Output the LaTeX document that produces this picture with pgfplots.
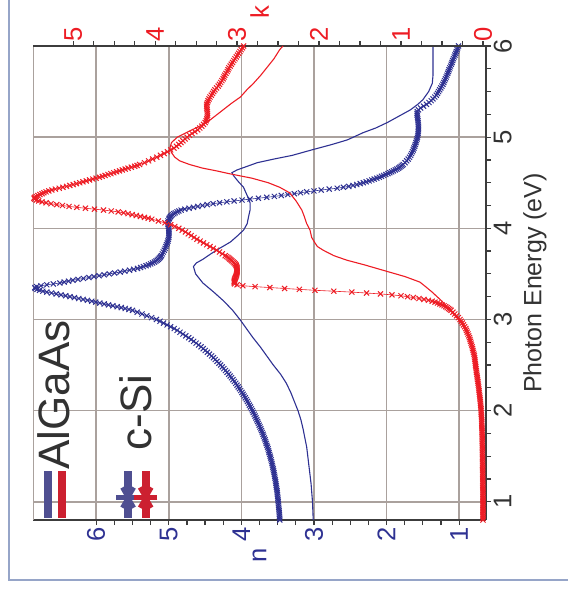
\documentclass[border=0pt]{standalone}
\usepackage{pgfplots}
\pgfplotsset{compat=1.18}
\usepackage{pgfplotstable}
\usepackage{fontspec}
\setmainfont{Liberation Sans}
\definecolor{nblue}{RGB}{46,49,146}
\definecolor{kred}{RGB}{237,28,36}
\definecolor{legblue}{RGB}{79,79,145}
\definecolor{legred}{RGB}{204,32,48}
\definecolor{gridc}{RGB}{170,161,157}
\definecolor{axc}{RGB}{60,60,60}
\definecolor{txtc}{RGB}{50,50,50}
\definecolor{framec}{RGB}{150,165,200}

% c-Si: photon energy (eV), n, k
\pgfplotstableread{
E n k
0.80 3.470 0.000
0.82 3.472 0.000
0.84 3.474 0.000
0.86 3.476 0.000
0.88 3.478 0.000
0.90 3.480 0.000
0.92 3.482 0.000
0.94 3.485 0.000
0.96 3.487 0.000
0.98 3.490 0.000
1.00 3.492 0.000
1.02 3.495 0.000
1.04 3.497 0.000
1.06 3.500 0.000
1.08 3.503 0.000
1.10 3.506 0.000
1.12 3.509 0.001
1.14 3.513 0.001
1.16 3.516 0.001
1.18 3.520 0.002
1.20 3.524 0.002
1.22 3.528 0.002
1.24 3.532 0.002
1.26 3.537 0.003
1.28 3.541 0.003
1.30 3.546 0.003
1.32 3.551 0.003
1.34 3.556 0.004
1.36 3.561 0.004
1.38 3.567 0.004
1.40 3.572 0.004
1.42 3.578 0.004
1.44 3.584 0.005
1.46 3.590 0.005
1.48 3.597 0.005
1.50 3.603 0.005
1.52 3.610 0.005
1.54 3.618 0.006
1.56 3.625 0.006
1.58 3.632 0.006
1.60 3.640 0.007
1.62 3.648 0.007
1.64 3.657 0.008
1.66 3.665 0.008
1.68 3.674 0.008
1.70 3.683 0.009
1.72 3.693 0.010
1.74 3.702 0.010
1.76 3.712 0.011
1.78 3.722 0.011
1.80 3.732 0.012
1.82 3.743 0.013
1.84 3.754 0.014
1.86 3.765 0.014
1.88 3.776 0.015
1.90 3.787 0.016
1.92 3.799 0.017
1.94 3.811 0.018
1.96 3.823 0.020
1.98 3.836 0.021
2.00 3.848 0.022
2.02 3.861 0.024
2.04 3.875 0.026
2.06 3.888 0.028
2.08 3.902 0.030
2.10 3.916 0.032
2.12 3.931 0.035
2.14 3.946 0.037
2.16 3.961 0.040
2.18 3.976 0.042
2.20 3.992 0.045
2.22 4.009 0.048
2.24 4.026 0.051
2.26 4.043 0.053
2.28 4.060 0.056
2.30 4.078 0.059
2.32 4.097 0.062
2.34 4.116 0.066
2.36 4.136 0.069
2.38 4.155 0.072
2.40 4.175 0.075
2.42 4.197 0.078
2.44 4.219 0.081
2.46 4.241 0.084
2.48 4.263 0.087
2.50 4.285 0.090
2.52 4.310 0.093
2.54 4.335 0.096
2.56 4.360 0.099
2.58 4.385 0.102
2.60 4.410 0.105
2.62 4.439 0.110
2.64 4.468 0.116
2.66 4.497 0.121
2.68 4.526 0.127
2.70 4.555 0.132
2.72 4.589 0.139
2.74 4.623 0.145
2.76 4.657 0.152
2.78 4.691 0.158
2.80 4.725 0.165
2.82 4.765 0.174
2.84 4.805 0.183
2.86 4.845 0.192
2.88 4.885 0.201
2.90 4.925 0.210
2.92 4.974 0.224
2.94 5.023 0.238
2.96 5.072 0.252
2.98 5.121 0.266
3.00 5.170 0.280
3.02 5.236 0.300
3.04 5.302 0.322
3.06 5.368 0.344
3.08 5.434 0.367
3.10 5.500 0.390
3.11 5.548 0.404
3.12 5.600 0.420
3.13 5.654 0.437
3.14 5.710 0.455
3.15 5.770 0.476
3.16 5.830 0.500
3.17 5.890 0.526
3.18 5.950 0.555
3.19 6.005 0.585
3.20 6.060 0.620
3.21 6.120 0.665
3.22 6.180 0.720
3.23 6.240 0.780
3.24 6.300 0.850
3.25 6.360 0.920
3.26 6.420 1.000
3.27 6.485 1.110
3.28 6.550 1.250
3.29 6.615 1.420
3.30 6.680 1.600
3.31 6.735 1.820
3.32 6.780 2.050
3.33 6.815 2.240
3.34 6.840 2.420
3.35 6.845 2.600
3.36 6.820 2.780
3.37 6.760 2.930
3.38 6.680 3.000
3.39 6.590 3.030
3.40 6.500 3.035
3.41 6.440 3.035
3.42 6.380 3.035
3.43 6.320 3.032
3.44 6.250 3.030
3.45 6.175 3.025
3.46 6.100 3.020
3.47 6.030 3.015
3.48 5.960 3.010
3.49 5.890 3.007
3.50 5.820 3.005
3.51 5.745 3.002
3.52 5.670 3.000
3.53 5.605 3.000
3.54 5.540 3.000
3.55 5.483 3.000
3.56 5.430 3.000
3.57 5.388 3.002
3.58 5.350 3.005
3.59 5.313 3.010
3.60 5.280 3.015
3.61 5.250 3.024
3.62 5.222 3.035
3.63 5.198 3.047
3.64 5.178 3.060
3.65 5.160 3.072
3.66 5.145 3.085
3.67 5.132 3.097
3.68 5.120 3.110
3.69 5.110 3.127
3.70 5.100 3.145
3.72 5.088 3.180
3.74 5.076 3.215
3.76 5.062 3.250
3.78 5.050 3.290
3.80 5.040 3.330
3.82 5.030 3.370
3.84 5.020 3.410
3.86 5.012 3.450
3.88 5.005 3.490
3.90 5.000 3.525
3.92 4.998 3.560
3.94 4.997 3.595
3.96 4.997 3.630
3.98 4.998 3.670
4.00 5.000 3.710
4.02 5.005 3.760
4.04 5.010 3.810
4.06 5.012 3.880
4.08 5.010 3.960
4.10 5.000 4.040
4.11 4.993 4.085
4.12 4.985 4.130
4.13 4.976 4.180
4.14 4.965 4.230
4.15 4.950 4.280
4.16 4.930 4.330
4.17 4.910 4.385
4.18 4.885 4.450
4.19 4.860 4.535
4.20 4.830 4.630
4.21 4.780 4.740
4.22 4.720 4.850
4.23 4.660 4.955
4.24 4.600 5.050
4.25 4.535 5.130
4.26 4.470 5.200
4.27 4.390 5.270
4.28 4.300 5.330
4.29 4.200 5.380
4.30 4.100 5.420
4.31 3.990 5.450
4.32 3.880 5.470
4.33 3.765 5.478
4.34 3.650 5.470
4.35 3.545 5.452
4.36 3.450 5.430
4.37 3.360 5.405
4.38 3.270 5.380
4.39 3.185 5.357
4.40 3.100 5.330
4.41 3.000 5.297
4.42 2.900 5.260
4.43 2.790 5.217
4.44 2.680 5.170
4.45 2.595 5.125
4.46 2.520 5.080
4.47 2.462 5.040
4.48 2.410 5.000
4.49 2.363 4.960
4.50 2.320 4.920
4.51 2.280 4.880
4.52 2.240 4.840
4.53 2.204 4.800
4.54 2.170 4.760
4.55 2.135 4.720
4.56 2.100 4.680
4.57 2.070 4.645
4.58 2.040 4.610
4.59 2.010 4.575
4.60 1.980 4.540
4.61 1.955 4.505
4.62 1.930 4.470
4.63 1.905 4.435
4.64 1.880 4.400
4.65 1.857 4.365
4.66 1.835 4.330
4.67 1.817 4.290
4.68 1.800 4.250
4.69 1.785 4.220
4.70 1.770 4.190
4.72 1.745 4.130
4.74 1.722 4.080
4.76 1.702 4.030
4.78 1.684 3.980
4.80 1.668 3.935
4.82 1.655 3.890
4.84 1.643 3.850
4.86 1.632 3.810
4.88 1.622 3.770
4.90 1.612 3.740
4.92 1.603 3.710
4.94 1.595 3.685
4.96 1.587 3.660
4.98 1.580 3.635
5.00 1.574 3.610
5.02 1.569 3.580
5.04 1.565 3.550
5.06 1.562 3.515
5.08 1.560 3.480
5.10 1.560 3.455
5.12 1.561 3.430
5.14 1.562 3.410
5.16 1.564 3.390
5.18 1.567 3.378
5.20 1.570 3.370
5.22 1.574 3.365
5.24 1.578 3.360
5.26 1.580 3.360
5.28 1.577 3.362
5.30 1.560 3.366
5.32 1.530 3.370
5.34 1.490 3.372
5.36 1.450 3.370
5.38 1.415 3.362
5.40 1.385 3.355
5.42 1.360 3.342
5.44 1.335 3.330
5.46 1.315 3.315
5.48 1.298 3.300
5.50 1.283 3.285
5.52 1.268 3.270
5.54 1.253 3.250
5.56 1.238 3.230
5.58 1.224 3.215
5.60 1.212 3.200
5.62 1.200 3.185
5.64 1.189 3.170
5.66 1.178 3.160
5.68 1.168 3.150
5.70 1.158 3.135
5.72 1.148 3.120
5.74 1.138 3.110
5.76 1.128 3.100
5.78 1.118 3.085
5.80 1.108 3.070
5.82 1.098 3.055
5.84 1.088 3.040
5.86 1.078 3.025
5.88 1.068 3.010
5.90 1.058 2.995
5.92 1.048 2.980
5.94 1.038 2.965
5.96 1.028 2.950
5.98 1.018 2.935
6.00 1.008 2.920
}\csi

% AlGaAs n
\pgfplotstableread{
E n
0.80 3.01
1.00 3.02
1.20 3.04
1.40 3.07
1.60 3.10
1.80 3.15
1.90 3.18
2.00 3.22
2.10 3.27
2.20 3.32
2.30 3.38
2.40 3.46
2.50 3.56
2.60 3.65
2.70 3.74
2.80 3.84
2.90 3.93
3.00 4.02
3.10 4.12
3.20 4.24
3.30 4.38
3.40 4.53
3.50 4.63
3.58 4.66
3.62 4.62
3.66 4.53
3.72 4.42
3.78 4.30
3.85 4.15
3.92 4.05
3.98 3.97
4.05 3.92
4.13 3.90
4.20 3.88
4.28 3.88
4.36 3.92
4.45 3.97
4.52 4.05
4.58 4.11
4.61 4.13
4.64 4.06
4.68 3.92
4.72 3.78
4.76 3.55
4.80 3.30
4.86 3.03
4.92 2.75
4.97 2.54
5.05 2.32
5.10 2.15
5.16 1.99
5.23 1.83
5.30 1.67
5.36 1.57
5.41 1.50
5.50 1.42
5.59 1.37
5.68 1.36
5.77 1.36
5.90 1.36
6.00 1.36
}\algn

% AlGaAs k
\pgfplotstableread{
E k
0.80 0.01
1.20 0.01
1.60 0.01
2.00 0.02
2.20 0.03
2.30 0.05
2.40 0.07
2.50 0.07
2.60 0.10
2.70 0.13
2.80 0.17
2.90 0.22
3.00 0.30
3.10 0.40
3.20 0.50
3.30 0.62
3.36 0.70
3.41 0.77
3.47 0.95
3.54 1.22
3.60 1.45
3.65 1.66
3.70 1.82
3.76 1.95
3.80 2.02
3.84 2.05
3.90 2.09
3.98 2.11
4.05 2.15
4.13 2.18
4.20 2.21
4.30 2.28
4.39 2.36
4.45 2.48
4.50 2.62
4.55 2.82
4.60 3.10
4.63 3.25
4.66 3.42
4.70 3.58
4.74 3.70
4.78 3.76
4.83 3.80
4.88 3.82
4.94 3.80
5.00 3.73
5.08 3.55
5.16 3.37
5.23 3.27
5.30 3.17
5.37 3.07
5.44 2.96
5.52 2.88
5.59 2.80
5.68 2.71
5.77 2.63
5.86 2.55
5.96 2.48
6.00 2.44
}\algk

\pgfplotsset{
  common/.style={
    at={(0pt,0pt)}, anchor=south west,
    scale only axis, width=237pt, height=226.5pt,
    xmin=0.8, xmax=6,
    tick align=outside,
    major tick length=2.5pt, minor tick length=2.5pt,
    axis line style={axc, line width=1pt},
    every tick/.style={axc, line width=0.6pt},
    /pgf/number format/assume math mode=true,
    ticklabel style={font=\fontsize{12.8}{15}\selectfont},
  }
}

\begin{document}
\begin{tikzpicture}
\useasboundingbox (-243pt,-36.5pt) rectangle (40.5pt,260pt);
\draw[framec, line width=1.2pt] (-238.5pt,262pt) -- (-238.5pt,-30pt) -- (42pt,-30pt);
\begin{scope}[rotate=90, transform shape]
\begin{axis}[common,
  ymin=0.63, ymax=6.87,
  axis x line*=bottom, axis y line*=left,
  xtick={1,2,3,4,5,6}, ytick={1,2,3,4,5,6},
  minor x tick num=3, minor y tick num=3,
  grid=major, major grid style={gridc, line width=0.75pt},
  x tick label style={text=txtc, yshift=2.2pt},
  y tick label style={text=nblue, xshift=2.5pt},
  every axis x label/.style={at={(rel axis cs:0.5,0)}, anchor=center, yshift=-24.5pt, font=\fontsize{12.5}{15}\selectfont, text=txtc},
  every axis y label/.style={at={(rel axis cs:0,0.5)}, anchor=center, xshift=-17.5pt, font=\fontsize{12.8}{15}\selectfont, text=nblue},
  xlabel={Photon Energy (eV)},
  ylabel={n},
  legend cell align=left,
  legend style={at={(0,1)}, anchor=north west, draw=none, fill=none,
    inner xsep=0pt, inner ysep=0pt, xshift=-1pt, yshift=-1pt,
    row sep=20pt, font=\fontsize{22}{26}\selectfont, text=txtc,
    nodes={inner sep=1pt}},
]
\draw[gridc, line width=0.75pt] (rel axis cs:0,1) -- (rel axis cs:1,1);
\addlegendimage{legend image code/.code={
  \draw[legblue, line width=4pt] (0pt,3.5pt) -- (23.5pt,3.5pt);
  \draw[legred, line width=4pt] (0pt,-3.5pt) -- (23.5pt,-3.5pt);}}
\addlegendentry{\hspace*{-2.5pt}AlGaAs}
\addlegendimage{legend image code/.code={
  \draw[legblue, line width=4pt] (0pt,4.4pt) -- (23.5pt,4.4pt);
  \draw[legblue, line width=2.2pt] (10pt,4.4pt) ++(0pt,-5.8pt) -- ++(0pt,11.6pt);
  \draw[legblue, line width=2.2pt] (10pt,4.4pt) ++(-150:5.8pt) -- ++(30:11.6pt);
  \draw[legblue, line width=2.2pt] (10pt,4.4pt) ++(150:5.8pt) -- ++(-30:11.6pt);
  \draw[legred, line width=4pt] (0pt,-4.4pt) -- (23.5pt,-4.4pt);
  \draw[legred, line width=2.2pt] (10pt,-4.4pt) ++(0pt,-5.8pt) -- ++(0pt,11.6pt);
  \draw[legred, line width=2.2pt] (10pt,-4.4pt) ++(-150:5.8pt) -- ++(30:11.6pt);
  \draw[legred, line width=2.2pt] (10pt,-4.4pt) ++(150:5.8pt) -- ++(-30:11.6pt);}}
\addlegendentry{\hspace*{7pt}c-Si}
\addplot[nblue, line width=0.3pt, mark=x, mark size=1.8pt, mark options={line width=0.5pt}, forget plot] table[x=E, y=n] {\csi};
\addplot[nblue, line width=0.55pt, forget plot] table[x=E, y=n] {\algn};
\end{axis}
\begin{axis}[common,
  ymin=-0.037, ymax=5.49,
  axis x line=none, axis y line*=right,
  ytick={0,1,2,3,4,5}, minor y tick num=3,
  y tick label style={text=kred, xshift=-4pt},
  every axis y label/.style={at={(rel axis cs:1,0.5)}, anchor=center, xshift=17pt, font=\fontsize{12.8}{15}\selectfont, text=kred},
  ylabel={k},
]
\addplot[kred, line width=0.3pt, mark=x, mark size=1.8pt, mark options={line width=0.5pt}] table[x=E, y=k] {\csi};
\addplot[kred, line width=0.55pt] table[x=E, y=k] {\algk};
\end{axis}
\end{scope}
\end{tikzpicture}
\end{document}
